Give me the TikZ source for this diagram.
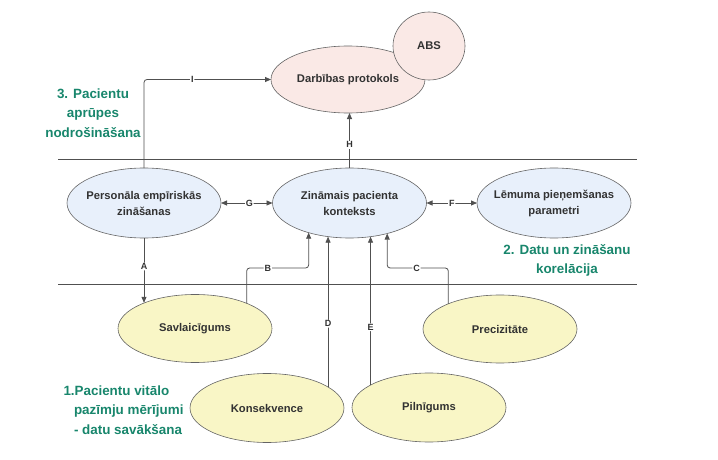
\documentclass[tikz,border=0pt]{standalone}
\usepackage{fontspec}
\setmainfont{Liberation Sans}
\usetikzlibrary{shapes.geometric,arrows.meta}
\definecolor{pinkf}{RGB}{250,233,230}
\definecolor{bluef}{RGB}{232,240,251}
\definecolor{yelf}{RGB}{249,246,198}
\definecolor{bord}{RGB}{100,100,100}
\definecolor{txt}{RGB}{50,50,50}
\definecolor{grn}{RGB}{24,134,108}
\definecolor{lin}{RGB}{80,80,80}
\begin{document}
\begin{tikzpicture}[x=1pt,y=-1pt,
  ell/.style={ellipse, draw=bord, line width=0.6pt, inner sep=0pt, outer sep=0pt,
    minimum width=154pt, minimum height=69pt},
  ntext/.style={align=center, font=\fontsize{11.2}{16}\selectfont\bfseries, text=txt},
  grntxt/.style={font=\fontsize{13.4}{19.3}\selectfont\bfseries, text=grn},
  conn/.style={draw=lin, line width=0.8pt, rounded corners=3pt},
  arr/.style={conn, -{Triangle[length=6pt,width=5pt]}},
  darr/.style={conn, {Triangle[length=6pt,width=5pt]}-{Triangle[length=6pt,width=5pt]}},
  lab/.style={fill=white, inner sep=0.8pt, font=\fontsize{9}{9}\selectfont\bfseries, text=txt},
  sepline/.style={draw=lin, line width=0.8pt}]
\useasboundingbox (0,0) rectangle (718,460);

% separators
\coordinate (s1a) at (58,159); \coordinate (s1b) at (637,159);
\coordinate (s2a) at (58,284); \coordinate (s2b) at (637,284);
\draw[sepline] (s1a) -- (s1b);
\draw[sepline] (s2a) -- (s2b);

% top
\node[ell, fill=pinkf, minimum height=67pt, label={[ntext]center:Darbības protokols}] (darb) at (348,79.5) {};
\node[ell, fill=pinkf, minimum width=72pt, minimum height=68pt, label={[ntext]center:ABS}] (abs) at (429,46) {};

% middle
\node[ell, fill=bluef, minimum height=70pt, label={[ntext]center:Personāla empīriskās\\zināšanas}] (pers) at (144,203) {};
\node[ell, fill=bluef, minimum height=70pt, label={[ntext]center:Zināmais pacienta\\konteksts}] (zin) at (349.5,203) {};
\node[ell, fill=bluef, minimum height=70pt, label={[ntext]center:Lēmuma pieņemšanas\\parametri}] (lem) at (554,203) {};

% bottom
\node[ell, fill=yelf, minimum height=68pt, label={[ntext]center:Savlaicīgums}] (sav) at (195,328.5) {};
\node[ell, fill=yelf, minimum height=68pt, label={[ntext]center:Precizitāte}] (pre) at (500,329) {};
\node[ell, fill=yelf, label={[ntext]center:Konsekvence}] (kon) at (267,408) {};
\node[ell, fill=yelf, label={[ntext]center:Pilnīgums}] (pil) at (429,407.5) {};

% section labels
\node[grntxt, align=center] (sec3) at (93,113) {3. Pacientu\\aprūpes\\nodrošināšana};
\node[grntxt, align=center] (sec2) at (567,260.5) {2. Datu un zināšanu\\korelācija};
\node[grntxt, align=left, anchor=west] (sec1) at (60,410) {1.Pacientu vitālo\\\hspace*{10.5pt}pazīmju mērījumi\\\hspace*{10.5pt}- datu savākšana};

% helper levels
\coordinate (lvl) at (0,268);

% connectors
\draw[arr] (pers.north) -- (pers.north |- darb.west) -- node[lab,pos=0.38]{I} (darb.west);
\draw[arr] (zin.north) -- node[lab,pos=0.42]{H} (zin.north |- darb.south);
\draw[darr] (pers.east) -- node[lab,pos=0.55]{G} (zin.west);
\draw[darr] (zin.east) -- node[lab,pos=0.5]{F} (lem.west);
\draw[arr] (pers.south) -- node[lab,pos=0.44]{A} (pers.south |- sav.153);
\draw[arr] (sav.26) -- (sav.26 |- lvl) -- node[lab,pos=0.34]{B} (zin.-144 |- lvl) -- (zin.-144);
\draw[arr] (pre.154) -- (pre.154 |- lvl) -- node[lab,pos=0.52]{C} (zin.-39 |- lvl) -- (zin.-39);
\draw[arr] (kon.19) -- node[lab,pos=0.42]{D} (kon.19 |- zin.238);
\draw[arr] (pil.159) -- node[lab,pos=0.39]{E} (pil.159 |- zin.302);
\end{tikzpicture}
\end{document}
